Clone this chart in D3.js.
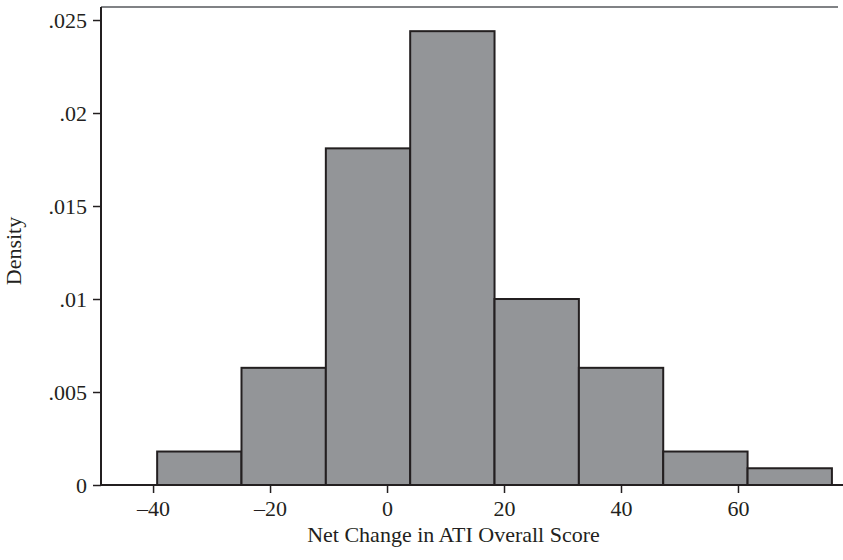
<!DOCTYPE html>
<html><head><meta charset="utf-8">
<script src="https://cdn.jsdelivr.net/npm/d3@7"></script>
<style>body{margin:0;background:#fff}svg{display:block}text{font-family:"Liberation Serif","Times New Roman",serif;fill:#231f20}</style>
</head><body><svg id="c" width="843" height="560"></svg>
<script>
const binStart = -39.3;
const binWidth = 14.42;
const densities = [0.0018, 0.0063, 0.0181, 0.0244, 0.0100, 0.0063, 0.0018, 0.0009];
const xTicks = [-40, -20, 0, 20, 40, 60];
const yTicks = [0, 0.005, 0.01, 0.015, 0.02, 0.025];
const yTickLabels = ["0", ".005", ".01", ".015", ".02", ".025"];
const xTitle = "Net Change in ATI Overall Score";
const yTitle = "Density";

const svg = d3.select("#c");
const L = 101, R = 838, T = 7, B = 485;
const x = d3.scaleLinear().domain([-48.9, 77.1]).range([L, R]);
const y = d3.scaleLinear().domain([0, 0.0257]).range([B, T]);

// top border
svg.append("line").attr("x1", L).attr("x2", R).attr("y1", T).attr("y2", T)
  .attr("stroke", "#808285").attr("stroke-width", 2);

// bars
svg.append("g").selectAll("rect").data(densities).join("rect")
  .attr("x", (d, i) => x(binStart + i * binWidth))
  .attr("width", (d, i) => x(binStart + (i + 1) * binWidth) - x(binStart + i * binWidth))
  .attr("y", d => y(d))
  .attr("height", d => B - y(d))
  .attr("fill", "#939598").attr("stroke", "#231f20").attr("stroke-width", 2);

// y axis
const ya = svg.append("g").attr("transform", `translate(${L},0)`)
  .call(d3.axisLeft(y).tickValues(yTicks).tickFormat((d, i) => yTickLabels[i]).tickSize(8).tickPadding(6));
ya.select(".domain").attr("stroke", "#231f20").attr("stroke-width", 2).attr("d", `M0,${T}V${B}`);
ya.selectAll(".tick line").attr("stroke", "#231f20").attr("stroke-width", 1.5);
ya.selectAll(".tick text").style("font-size", "22px").style("font-family", "Liberation Serif").attr("fill", "#231f20");

// x axis
const xa = svg.append("g").attr("transform", `translate(0,${B})`)
  .call(d3.axisBottom(x).tickValues(xTicks).tickFormat(d => d < 0 ? "\u2013" + Math.abs(d) : d).tickSize(8).tickPadding(7));
xa.select(".domain").attr("stroke", "#231f20").attr("stroke-width", 2).attr("d", `M${L},0H843`);
xa.selectAll(".tick line").attr("stroke", "#231f20").attr("stroke-width", 1.5);
xa.selectAll(".tick text").style("font-size", "22px").style("font-family", "Liberation Serif").attr("fill", "#231f20");

svg.append("text").attr("x", (295 + 612) / 2).attr("y", 542).attr("text-anchor", "middle")
  .style("font-size", "22px").text(xTitle);
svg.append("text").attr("transform", "translate(21,251) rotate(-90)").attr("text-anchor", "middle")
  .style("font-size", "22px").text(yTitle);
</script></body></html>
